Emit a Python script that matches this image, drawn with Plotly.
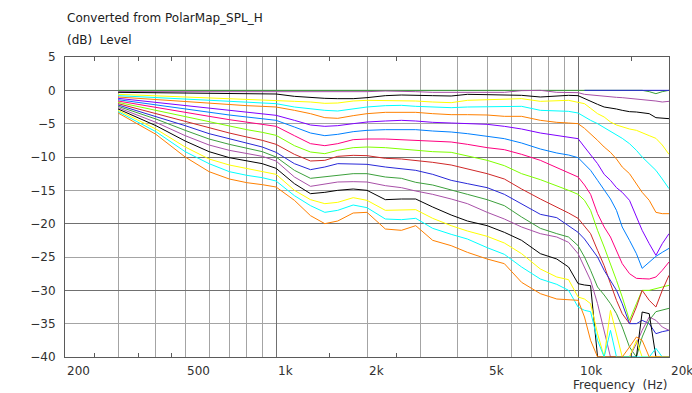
import numpy as np
import plotly.graph_objects as go

# ---------------- data ----------------
FREQ = [300, 400, 500, 600, 700, 800, 900, 1000,
        1150, 1300, 1450, 1600, 1800, 2000, 2300, 2600, 2900, 3300, 3800, 4300, 5000, 5700, 6500, 7500, 8500, 9300,
        10000, 10500, 11000, 11600, 12200, 12800, 13400, 14000, 14800, 15600, 16300, 17200, 18100, 19000, 20000]

FREQ_TOP = [10500, 11000, 11600, 12200, 12800, 13400, 14000, 14800, 15600, 16300, 17200, 18100, 19000, 20000]
BLUE_TOP = [0, 0, 0, 0, 0, 0, 0, 0, 0, 0, 0, 0, 0, 0]

c00_green = [0, 0, 0, 0, 0, 0, 0, 0,
             0, 0, 0, 0, 0, 0, 0, 0, 0, 0, 0, 0, 0, 0, 0, 0, 0, 0,
             0, 0, 0, 0, 0, 0, 0, 0, 0, 0, 0, -0.2, -0.5, -0.2, 0]
c01_mauve = [-0.2, -0.2, -0.2, -0.25, -0.25, -0.3, -0.3, -0.3,
             -0.3, -0.3, -0.3, -0.3, -0.3, -0.2, -0.1, -0.1, -0.2, -0.3, -0.3, -0.2, -0.3, -0.3, -0.05, 0, -0.3, -0.3,
             -0.35, -0.6, -0.7, -0.8, -0.9, -1.0, -1.05, -1.1, -1.2, -1.25, -1.35, -1.5, -1.6, -1.75, -1.65]
c02_black = [-0.3, -0.35, -0.4, -0.45, -0.5, -0.5, -0.5, -0.55,
             -0.9, -1.1, -1.2, -1.25, -1.25, -1.1, -0.8, -0.7, -0.7, -0.8, -0.85, -0.6, -0.65, -0.7, -0.75, -1.0, -0.8, -0.75,
             -0.8, -1.25, -1.7, -2.1, -2.5, -2.6, -2.8, -3.0, -3.2, -3.25, -3.4, -3.5, -4.1, -4.2, -4.25]
c03_yellow = [-0.6, -0.8, -1.0, -1.1, -1.2, -1.3, -1.4, -1.5,
              -1.65, -1.75, -1.95, -1.9, -1.6, -1.5, -1.5, -1.6, -1.6, -1.75, -1.85, -1.5, -1.4, -1.35, -1.25, -1.65, -1.5, -1.5,
              -1.8, -2.0, -2.7, -3.5, -4.0, -4.75, -5.2, -5.5, -5.8, -6.0, -6.4, -6.8, -7.2, -8.2, -9.6]
c04_cyan = [-0.8, -1.1, -1.3, -1.5, -1.7, -1.8, -1.9, -2.0,
            -2.5, -2.8, -3.0, -3.1, -2.8, -2.5, -2.3, -2.25, -2.4, -2.5, -2.6, -2.5, -2.5, -2.5, -2.4, -3.0, -3.1, -3.15,
            -3.4, -4.0, -4.5, -5.0, -5.6, -6.2, -6.8, -7.2, -8.0, -9.0, -10.0, -11.0, -12.0, -13.3, -14.75]
c05_orange = [-1.0, -1.4, -1.7, -1.9, -2.1, -2.3, -2.4, -2.5,
              -3.0, -3.5, -4.1, -4.2, -3.8, -3.5, -3.3, -3.25, -3.3, -3.5, -3.65, -3.65, -3.7, -3.9, -3.9, -4.5, -4.8, -4.9,
              -5.0, -5.7, -6.5, -7.5, -8.5, -9.3, -10.3, -11.5, -12.5, -14.0, -15.3, -16.5, -18.3, -18.5, -18.5]
c06_violet = [-1.2, -1.8, -2.3, -2.7, -3.0, -3.3, -3.5, -3.75,
              -4.5, -5.2, -5.4, -5.3, -5.0, -4.75, -4.6, -4.5, -4.6, -4.8, -4.9, -5.0, -5.1, -5.4, -5.8, -6.4, -6.75, -7.0,
              -7.25, -8.5, -9.75, -11.0, -12.6, -13.5, -14.6, -15.3, -16.5, -19.0, -21.0, -23.0, -24.75, -23.0, -21.5]
c07_azure = [-1.4, -2.2, -2.8, -3.3, -3.7, -4.0, -4.3, -4.5,
             -5.5, -6.4, -6.8, -6.6, -6.2, -6.0, -5.9, -5.9, -5.9, -6.1, -6.25, -6.5, -6.85, -7.25, -7.9, -8.8, -9.4, -9.7,
             -10.1, -11.0, -12.0, -13.5, -15.0, -16.3, -18.0, -20.5, -22.5, -24.5, -26.7, -25.8, -24.9, -24.3, -23.7]
c08_rose = [-1.6, -2.6, -3.3, -3.9, -4.4, -4.8, -5.1, -5.4,
            -6.8, -8.0, -8.3, -8.0, -7.4, -7.3, -7.3, -7.4, -7.5, -7.6, -7.75, -8.1, -8.6, -8.9, -9.6, -10.5, -11.6, -12.4,
            -13.0, -14.2, -15.6, -18.5, -20.5, -22.0, -24.0, -26.0, -27.5, -28.2, -28.25, -28.3, -28.0, -27.0, -25.75]
c09_lime = [-1.8, -3.0, -4.0, -4.8, -5.4, -5.9, -6.3, -6.75,
            -8.3, -9.25, -9.5, -9.0, -8.6, -8.5, -8.6, -8.8, -9.0, -9.2, -9.3, -9.8, -10.5, -11.3, -12.5, -13.4, -14.3, -15.0,
            -15.6, -16.5, -18.0, -21.0, -23.5, -26.0, -28.5, -31.0, -34.5, -32.0, -30.0, -30.0, -29.8, -29.5, -29.25]
c10_red = [-2.0, -3.5, -4.7, -5.7, -6.4, -7.0, -7.5, -8.1,
           -9.6, -10.6, -10.5, -9.9, -9.75, -9.8, -10.2, -10.3, -10.5, -10.8, -11.2, -11.8, -12.5, -13.3, -14.8, -16.3, -17.5, -18.4,
           -19.2, -20.3, -21.5, -24.0, -26.3, -29.0, -31.5, -33.5, -35.0, -32.5, -30.0, -31.5, -32.5, -30.0, -27.75]
c11_blue = [-2.2, -3.9, -5.3, -6.5, -7.3, -7.9, -8.5, -9.3,
            -11.0, -11.9, -11.5, -11.0, -11.0, -11.1, -11.5, -11.8, -12.0, -12.6, -13.5, -14.0, -14.6, -15.6, -17.0, -18.6, -19.1, -20.3,
            -21.3, -22.3, -23.5, -25.0, -27.0, -28.5, -30.0, -32.0, -35.0, -35.0, -34.5, -35.0, -36.5, -36.2, -36.0]
c12_green = [-2.4, -4.3, -6.0, -7.3, -8.1, -8.7, -9.2, -10.0,
             -12.0, -13.2, -13.0, -12.75, -12.5, -12.5, -13.0, -13.2, -13.8, -14.2, -15.0, -15.6, -16.4, -17.3, -19.0, -20.7, -21.5, -22.0,
             -23.3, -25.0, -27.0, -29.5, -30.7, -32.0, -33.5, -35.5, -38.5, -40.0, -37.0, -34.5, -33.2, -33.0, -32.7]
c13_mauve = [-2.6, -4.8, -6.8, -8.2, -9.0, -9.5, -9.9, -10.6,
             -13.0, -14.4, -14.0, -13.75, -13.7, -13.75, -14.3, -14.6, -15.1, -15.6, -16.3, -17.0, -18.3, -19.3, -20.5, -21.5, -22.0, -22.8,
             -24.5, -26.5, -28.5, -32.0, -36.0, -40.0, -40.0, -40.0, -40.0, -38.0, -36.0, -34.0, -34.5, -35.5, -36.0]
c14_black = [-2.8, -5.3, -7.6, -9.2, -10.1, -10.6, -11.0, -11.7,
             -14.0, -15.5, -15.3, -15.0, -14.8, -15.0, -16.4, -16.3, -16.3, -17.5, -18.7, -19.6, -20.3, -21.3, -22.5, -24.5, -25.3, -26.5,
             -29.0, -29.2, -29.3, -40.0, -40.0, -40.0, -40.0, -40.0, -40.0, -40.0, -33.25, -33.5, -40.0, -40.0, -40.0]
c15_yellow = [-3.0, -5.8, -8.5, -10.3, -11.2, -11.7, -12.1, -12.6,
              -15.0, -16.4, -17.0, -16.8, -16.1, -16.5, -18.0, -17.9, -17.9, -19.2, -20.3, -21.1, -21.9, -22.9, -24.5, -26.8, -28.0, -28.4,
              -31.0, -31.3, -32.0, -36.5, -40.0, -33.0, -36.5, -40.0, -40.0, -37.5, -40.0, -40.0, -40.0, -40.0, -40.0]
c16_cyan = [-3.2, -6.2, -9.2, -11.0, -12.2, -12.75, -13.1, -13.6,
            -15.8, -17.3, -18.3, -18.0, -17.2, -17.6, -19.3, -19.4, -19.2, -20.7, -21.6, -22.3, -23.6, -24.6, -26.5, -28.3, -29.1, -30.0,
            -32.5, -33.0, -33.2, -37.5, -40.0, -36.0, -40.0, -40.0, -40.0, -40.0, -40.0, -40.0, -38.7, -40.0, -40.0]
c17_orange = [-3.4, -6.6, -10.0, -12.2, -13.3, -13.85, -14.15, -14.5,
              -16.5, -18.8, -20.0, -19.6, -18.4, -18.3, -20.8, -21.0, -20.3, -22.5, -23.3, -24.3, -25.3, -26.0, -28.8, -30.5, -31.3, -31.4,
              -31.5, -34.0, -37.5, -40.0, -40.0, -40.0, -40.0, -40.0, -38.5, -37.0, -37.5, -40.0, -40.0, -40.0, -40.0]

SERIES = [c00_green, c01_mauve, c02_black, c03_yellow, c04_cyan, c05_orange, c06_violet, c07_azure, c08_rose,
          c09_lime, c10_red, c11_blue, c12_green, c13_mauve, c14_black, c15_yellow, c16_cyan, c17_orange]
COLORS = ["#3ca03c", "#a850a8", "#000000", "#ffff00", "#00ffff", "#ff8000", "#8000ff", "#0080ff", "#ff0080",
          "#80ff00", "#d02828", "#2828d8", "#3ca03c", "#a850a8", "#000000", "#ffff00", "#00ffff", "#ff8000"]

X_LABEL_VALS = [200, 500, 1000, 2000, 5000, 10000, 20000]
X_LABEL_TEXT = ["200", "500", "1k", "2k", "5k", "10k", "20k"]
X_GRID = [300, 400, 500, 600, 700, 800, 900, 2000, 3000, 4000, 5000, 6000, 7000, 8000, 9000]
X_GRID_DARK = [1000, 10000]
X_MINOR = [250, 350, 450, 1500, 2500, 15000]
Y_TICKS = [5, 0, -5, -10, -15, -20, -25, -30, -35, -40]
Y_GRID_DARK = [0, -10, -20, -30]

# ---------------- figure ----------------
fig = go.Figure()
for vals, col in zip(SERIES, COLORS):
    fig.add_trace(go.Scatter(x=FREQ, y=vals, mode="lines", line=dict(color=col, width=1),
                             showlegend=False, hoverinfo="skip"))
fig.add_trace(go.Scatter(x=FREQ_TOP, y=BLUE_TOP, mode="lines", line=dict(color="#2828d8", width=1),
                         showlegend=False, hoverinfo="skip"))
# invisible trace to anchor overlay axes carrying the darker grid
fig.add_trace(go.Scatter(x=[1000], y=[0], xaxis="x2", yaxis="y2", mode="markers",
                         marker=dict(opacity=0), showlegend=False, hoverinfo="skip"))

xr = [np.log10(200), np.log10(20000)]
yr = [-40, 5]
light = "#a4a4a4"
dark = "#707070"
border = "#5a5a5a"

fig.update_layout(
    width=692, height=393,
    margin=dict(l=65, r=23, t=57, b=36),
    paper_bgcolor="white", plot_bgcolor="white",
    font=dict(family="DejaVu Sans", size=12, color="#303030"),
    xaxis=dict(type="log", range=xr, tickmode="array", tickvals=X_GRID, showticklabels=False,
               ticks="", showgrid=True, gridcolor=light, gridwidth=1, zeroline=False,
               showline=True, linecolor=border, linewidth=1, mirror="ticks",
               minor=dict(tickmode="array", tickvals=X_MINOR, ticks="inside", ticklen=4,
                          tickcolor=border, showgrid=False)),
    xaxis2=dict(type="log", range=xr, overlaying="x", tickmode="array", tickvals=X_GRID_DARK,
                showticklabels=False, ticks="", showgrid=True, gridcolor=dark, gridwidth=1,
                zeroline=False, showline=False),
    yaxis=dict(range=yr, tickmode="array", tickvals=Y_TICKS, ticks="", showgrid=True,
               gridcolor=light, gridwidth=1, zeroline=False, showline=True, linecolor=border,
               linewidth=1, mirror=True, ticklabelstandoff=6, tickfont=dict(size=12, color="#303030")),
    yaxis2=dict(range=yr, overlaying="y", tickmode="array", tickvals=Y_GRID_DARK, showticklabels=False,
                ticks="", showgrid=True, gridcolor=dark, gridwidth=1, zeroline=False, showline=False),
)

annotations = []
for v, t in zip(X_LABEL_VALS, X_LABEL_TEXT):
    annotations.append(dict(x=np.log10(v), xref="x", y=0, yref="paper", text=t, showarrow=False,
                            xanchor="left", yanchor="top", xshift=0, yshift=-5,
                            font=dict(size=12, color="#303030")))
annotations.append(dict(x=1, xref="paper", y=0, yref="paper", text="Frequency\u00a0 (Hz)", showarrow=False,
                        xanchor="right", yanchor="top", yshift=-19, font=dict(size=12, color="#303030")))
annotations.append(dict(x=0, xref="paper", y=1 + 39 / 300, yref="paper", text="Converted from PolarMap_SPL_H",
                        showarrow=False, xanchor="left", yanchor="middle", font=dict(size=12, color="#202020")))
annotations.append(dict(x=0, xref="paper", y=1 + 17 / 300, yref="paper", text="(dB)\u00a0 Level",
                        showarrow=False, xanchor="left", yanchor="middle", font=dict(size=12, color="#202020")))
fig.update_layout(annotations=annotations)

fig.write_html("out.html", config={"displayModeBar": False},
               post_script="document.body.style.margin='0px';document.body.style.padding='0px';")
